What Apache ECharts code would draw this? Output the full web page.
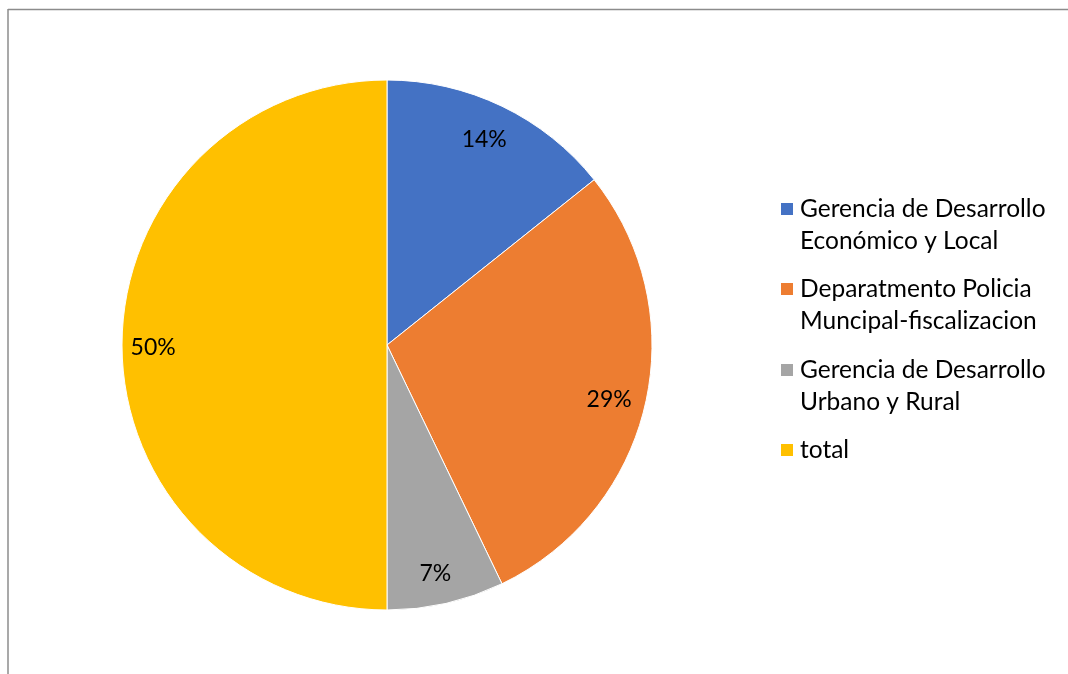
<!DOCTYPE html>
<html>
<head>
<meta charset="utf-8">
<script src="https://cdn.jsdelivr.net/npm/echarts@6/dist/echarts.min.js"></script>
<style>
  html, body { margin: 0; padding: 0; background: #fff; }
  #chart { width: 1068px; height: 674px; }
</style>
</head>
<body>
<div id="chart"></div>
<script>
// Slice names (wrapped as shown in the legend) and their values
const categories = [
  'Gerencia de Desarrollo\nEconómico y Local',
  'Deparatmento Policia\nMuncipal-fiscalizacion',
  'Gerencia de Desarrollo\nUrbano y Rural',
  'total'
];
const values = [2, 4, 1, 7];
const colors = ['#4472C4', '#ED7D31', '#A5A5A5', '#FFC000'];

const FONT = 'Lato';
const LEGEND_SIZE = 24.5;
const LABEL_SIZE = 23;
const LINE_H = 32;
const R = 265;

const pieData = categories.map((name, i) => ({ name, value: values[i], itemStyle: { color: colors[i] } }));

// One legend block per entry; a blank leading line keeps the swatch level
// with the first line of a wrapped name.
const legendIconY = [209, 289, 370, 450];
const legends = categories.map((name, i) => {
  const lines = name.split('\n').length;
  const total = lines > 1 ? lines * 2 - 1 : 1;
  return {
    left: 779,
    top: legendIconY[i] - (total * LINE_H) / 2,
    orient: 'vertical',
    padding: 0,
    itemWidth: 14,
    itemHeight: 14,
    selectedMode: false,
    icon: 'rect',
    formatter: n => (lines > 1 ? '\n'.repeat(lines - 1) + n : n),
    data: [{ name }],
    textStyle: { fontFamily: FONT, fontSize: LEGEND_SIZE, lineHeight: LINE_H, color: '#000', padding: [0, 0, 0, 1] }
  };
});

const chart = echarts.init(document.getElementById('chart'), null, { renderer: 'canvas' });
chart.setOption({
  backgroundColor: '#fff',
  animation: false,
  legend: legends,
  graphic: [
    { type: 'line', shape: { x1: 8, y1: 9.5, x2: 1068, y2: 9.5 }, style: { stroke: '#8c8c8c', lineWidth: 1.5 }, silent: true },
    { type: 'line', shape: { x1: 8, y1: 9, x2: 8, y2: 674 }, style: { stroke: '#8c8c8c', lineWidth: 1.5 }, silent: true }
  ],
  series: [
    {
      type: 'pie',
      center: [387, 345],
      radius: [0, R],
      startAngle: 90,
      clockwise: true,
      silent: true,
      label: { show: false },
      labelLine: { show: false },
      itemStyle: { borderColor: '#fff', borderWidth: 1 },
      data: pieData
    },
    {
      // transparent ring carrying the percentage labels near the outer edge
      type: 'pie',
      center: [387, 345],
      radius: [R * 0.72, R],
      startAngle: 90,
      clockwise: true,
      silent: true,
      percentPrecision: 0,
      legendHoverLink: false,
      itemStyle: { color: 'rgba(0,0,0,0)', borderWidth: 0 },
      label: {
        show: true,
        position: 'inside',
        formatter: '{d}%',
        fontFamily: FONT,
        fontSize: LABEL_SIZE,
        color: '#000',
        offset: [-3, 3]
      },
      labelLine: { show: false },
      data: categories.map((name, i) => ({ name, value: values[i] }))
    }
  ]
});
</script>
</body>
</html>
